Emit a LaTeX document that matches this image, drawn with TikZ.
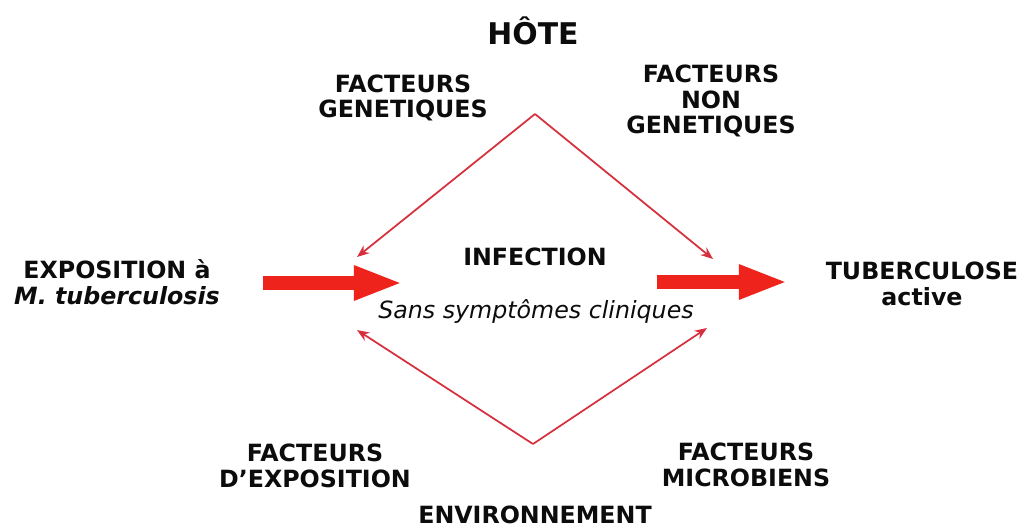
\documentclass[tikz,border=0pt]{standalone}
\usepackage{fontspec}
\setmainfont{DejaVu Sans}
\usepackage{tikz}
\usetikzlibrary{arrows.meta, positioning}
\definecolor{myred}{RGB}{214,48,62}
\definecolor{bigred}{RGB}{238,36,28}
\definecolor{mydark}{RGB}{12,12,12}
\tikzset{
  lbl/.style={align=center, text=mydark, font=\fontsize{13.5}{14.5}\selectfont\bfseries, inner sep=0pt},
  note/.style={align=center, text=mydark, font=\fontsize{13.5}{14.5}\selectfont\itshape, inner sep=0pt},
  thinarrow/.style={-{Stealth[length=7pt, width=5.5pt]}, line width=1pt, color=myred},
  bigarrow/.style={-{Triangle[length=28pt, width=18pt]}, line width=8.5pt, color=bigred}
}

\begin{document}
\begin{tikzpicture}[x=0.02cm, y=-0.02cm]
\useasboundingbox (0,0) rectangle (1032,528);
% texts
\node[lbl, font=\fontsize{17}{18}\selectfont\bfseries] (hote) at (533,31) {HÔTE};
\node[lbl] (genet) at (403,98) {FACTEURS\\GENETIQUES};
\node[lbl] (nongenet) at (711,101) {FACTEURS\\NON\\GENETIQUES};
\node[lbl] (expo) at (117,282) {EXPOSITION à\\\textit{M. tuberculosis}};
\node[lbl] (infection) at (535,257) {INFECTION};
\node[note] (sanssympt) at (536,311) {Sans symptômes cliniques};
\node[lbl] (tuberc) at (922,284) {TUBERCULOSE\\active};
\node[lbl] (fexpo) at (315,466) {FACTEURS\\D’EXPOSITION};
\node[lbl] (fmicro) at (746,465) {FACTEURS\\MICROBIENS};
\node[lbl] (environ) at (535,515) {ENVIRONNEMENT};
% points of the diamond
\coordinate (hoteapex) at (535,114);
\coordinate (envapex) at (533,444);
\coordinate (tipTL) at (357,257);
\coordinate (tipTR) at (713,259);
\coordinate (tipBL) at (357,330);
\coordinate (tipBR) at (707,328);
\draw[thinarrow] (hoteapex) -- (tipTL);
\draw[thinarrow] (hoteapex) -- (tipTR);
\draw[thinarrow] (envapex) -- (tipBL);
\draw[thinarrow] (envapex) -- (tipBR);
% big arrows
\coordinate (expoout) at (263,283);
\coordinate (infin) at (403,283);
\coordinate (infout) at (657,282);
\coordinate (tubin) at (788,282);
\draw[bigarrow] (expoout) -- (infin);
\draw[bigarrow] (infout) -- (tubin);
\end{tikzpicture}
\end{document}
